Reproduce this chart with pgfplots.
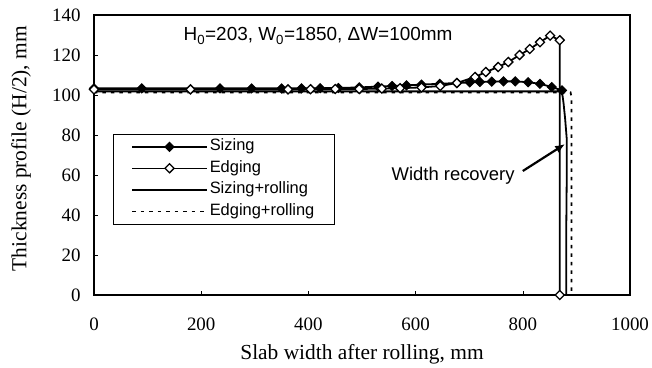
\documentclass[border=0pt]{standalone}
\usepackage{fontspec}
\setmainfont{Liberation Serif}
\setsansfont{Liberation Sans}
\usepackage{pgfplots}
\pgfplotsset{compat=1.18}
\usetikzlibrary{arrows.meta}

\pgfplotstableread{
x y
0 103.3
89 103.3
235 103.3
294 103.3
350 103.3
387 103.3
422 103.4
456 103.5
495 103.8
530 104.2
556 104.5
583 104.8
611 105.2
645 105.6
677 106.0
701 106.3
720 106.5
742 106.7
764 106.8
786 106.8
810 106.4
832 105.6
854 104.0
873 102.3
}\sizing

\pgfplotstableread{
x y
0 102.8
180 102.8
362 102.8
404 102.9
450 103.0
495 103.0
537 103.2
571 103.4
611 103.8
646 104.5
677 106.0
711 109.0
731 111.5
754 114.0
773 116.5
794 120.0
813 123.0
832 126.4
851 129.7
869 127.4
869 0
}\edging

\pgfplotstableread{
x y
0 101.8
873 101.8
876 96
879 88
882 78
882 60
881 30
881 0
}\sizingrolling

\pgfplotstableread{
x y
0 101.3
889 101.3
891 99
891 0
}\edgingrolling

\begin{document}
\begin{tikzpicture}
\begin{axis}[
  at={(0,0)}, anchor=south west,
  scale only axis, width=536bp, height=280bp,
  xmin=0, xmax=1000, ymin=0, ymax=140,
  xtick={0,200,...,1000}, ytick={0,20,...,140},
  xtick pos=bottom, ytick pos=left,
  tick align=inside,
  /pgf/number format/assume math mode=true,
  /pgf/number format/1000 sep={},
  tick label style={font=\fontsize{19}{21}\selectfont},
  xticklabel style={yshift=-19bp},
  yticklabel style={xshift=-10bp},
  tick style={black, line width=0.6bp},
  major tick length=4bp,
  axis line style={line width=1.5bp},
  xlabel={Slab width after rolling, mm},
  ylabel={Thickness profile (H/2), mm},
  label style={font=\fontsize{21.5}{24}\selectfont},
  xlabel style={at={(axis description cs:0.5,-0.232)}, anchor=base},
  ylabel style={at={(axis description cs:-0.136,0.523)}, anchor=center},
  legend style={at={(axis description cs:0.0354,0.575)}, anchor=north west,
    draw=black, line width=0.6bp,
    font=\sffamily\fontsize{16.5}{18}\selectfont,
    inner xsep=18bp, inner ysep=3bp, row sep=2.5bp,
    nodes={text height=11.5bp, text depth=3.5bp, inner sep=2bp}},
  legend cell align=left,
  legend image code/.code={\draw[mark repeat=2,mark phase=2,#1,line width=1.5bp] plot coordinates {(0bp,0bp)(37.5bp,0bp)(75bp,0bp)};},
]
\addplot[black, line width=1.8bp, mark=square*, mark size=3.2bp,
  mark options={rotate=45, fill=black, solid, line width=1bp}] table[x=x,y=y]{\sizing};
\addlegendentry{Sizing}
\addplot[black, line width=1.8bp, mark=square*, mark size=3.2bp,
  mark options={rotate=45, fill=white, solid, line width=1.3bp}] table[x=x,y=y]{\edging};
\addlegendentry{Edging}
\addplot[black, line width=1.8bp] table[x=x,y=y]{\sizingrolling};
\addlegendentry{Sizing+rolling}
\addplot[black, line width=1.8bp, dash pattern=on 3.5bp off 5bp] table[x=x,y=y]{\edgingrolling};
\addlegendentry{Edging+rolling}

\node[font=\sffamily\fontsize{19}{21}\selectfont] at (axis cs:418,129.5)
  {H\textsubscript{0}=203, W\textsubscript{0}=1850, ΔW=100mm};
\node[font=\sffamily\fontsize{18.5}{21}\selectfont] at (axis cs:670,59.5) {Width recovery};
\draw[-{Latex[length=10bp,width=8bp]}, line width=2.2bp] (axis cs:800,62) -- (axis cs:879,75.5);
\end{axis}
\pgfresetboundingbox
\path[use as bounding box] (-94bp,-73bp) rectangle (558bp,295bp);
\end{tikzpicture}
\end{document}
